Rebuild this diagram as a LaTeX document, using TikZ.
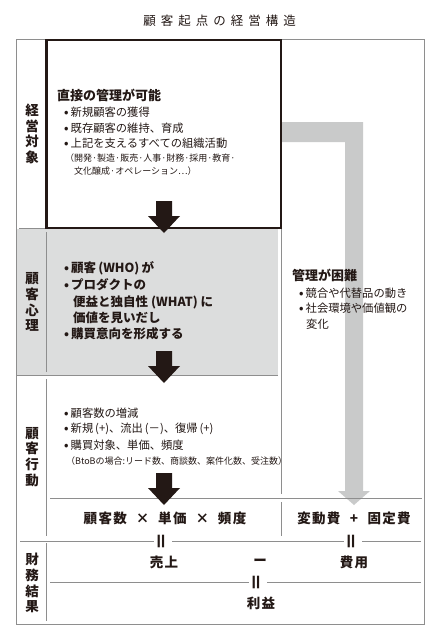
\documentclass[tikz,border=0pt]{standalone}
\usepackage{fontspec}
\setmainfont{Noto Sans CJK JP}
\newfontfamily\titlefont{Noto Sans CJK JP}[LetterSpace=40]
\newfontfamily\sumfont{Noto Sans CJK JP}[LetterSpace=10]
\usetikzlibrary{calc}
\definecolor{ink}{HTML}{231815}
\definecolor{rulegray}{HTML}{8E8E8E}
\definecolor{panegray}{HTML}{DCDDDD}
\definecolor{bargray}{HTML}{C9CACA}
\newcommand{\bul}{\mbox{\bfseries•}\hspace{2pt}}

\begin{document}
\begin{tikzpicture}[x=1pt,y=-1pt,
  thinrule/.style={draw=rulegray,line width=0.8pt},
  txt/.style={anchor=west,inner sep=0pt,text=ink},
  head/.style={txt,font=\bfseries\fontsize{13}{15}\selectfont},
  item/.style={txt,font=\fontsize{11.3}{13}\selectfont},
  note/.style={txt,font=\fontsize{9}{10}\selectfont},
  psy/.style={txt,font=\bfseries\fontsize{12.5}{14}\selectfont},
  vlab/.style={align=center,inner sep=0pt,text=ink,font=\bfseries\fontsize{13.5}{15.8}\selectfont},
  sum/.style={inner sep=0pt,text=ink,font=\sumfont\bfseries\fontsize{13.5}{15}\selectfont},
  eqmark/.style={rotate=90,inner sep=4pt,text=ink,font=\bfseries\fontsize{18}{18}\selectfont}]
\useasboundingbox (0,0) rectangle (438,640);
% shaded pane and the grey arrow behind everything
\fill[panegray] (16,229) rectangle (278,375);
\fill[bargray] (281,122) -- (363,122) -- (363,491) -- (370,491) -- (354,505) -- (338,491) -- (345,491) -- (345,142) -- (281,142) -- cycle;
% frame and rules
\draw[thinrule] (16,39) rectangle (424,624);
\draw[thinrule] (19,228) -- (45,228);
\draw[thinrule] (16,375) -- (278,375);
\foreach \a/\b in {232/372,379/536,543/621}
  \draw[thinrule] (46.5,\a) -- (46.5,\b);
\draw[thinrule] (281,228) -- (281,494) (281,502) -- (281,536);
\draw[thinrule] (50,498) -- (422,498);
\node (box0) [draw=ink,line width=2.6pt,minimum width=234.5pt,minimum height=188pt,inner sep=0pt,outer sep=0pt,anchor=north west] at (46.5,40) {};
% black arrows
\foreach \t [count=\i] in {233,383,505} {
  \coordinate (tip\i) at (164,\t);
  \fill[ink] (tip\i) -- ++(16,-17) -- ++(-8,0) -- ++(0,-15) -- ++(-16,0) -- ++(0,15) -- ++(-8,0) -- cycle;
}
\node (t0) [inner sep=0pt,text=ink,font=\titlefont\fontsize{12.5}{14}\selectfont] at (219.5,21) {顧客起点の経営構造};
% side labels
\node (l1) [vlab] at (32,134) {経\\営\\対\\象};
\node (l2) [vlab] at (32,302) {顧\\客\\心\\理};
\node (l3) [vlab] at (32,457) {顧\\客\\行\\動};
\node (l4) [vlab] at (32,583) {財\\務\\結\\果};
% first block
\node (h0) [head] at (57,95) {直接の管理が可能};
\foreach \t [count=\i] in {新規顧客の獲得,既存顧客の維持、育成,上記を支えるすべての組織活動}
  \node (b\i) [item] at (64,{97+15.5*\i}) {\bul\t};
\node (n1) [note] at (65,158) {（開発·製造·販売·人事·財務·採用·教育·};
\node (n2) [note] at (74,171) {文化醸成·オペレーション…）};
% second block
\foreach \x/\y/\t [count=\i] in {64/268/\bul 顧客\,(WHO)\,が,64/285/\bul プロダクトの,73/302/便益と独自性\hspace{3pt}(WHAT)\hspace{3pt}に,73/318/価値を見いだし,64/334/\bul 購買意向を形成する}
  \node (p\i) [psy] at (\x,\y) {\t};
% right side
\node (h1) [head] at (292,275) {管理が困難};
\node (c1) [item] at (299,293) {\bul 競合や代替品の動き};
\node (c2) [item] at (299,308) {\bul 社会環境や価値観の};
\node (c3) [item] at (306,324) {変化};
% third block
\foreach \t [count=\i] in {顧客数の増減,新規\,(+)、流出\,(－)、復帰\,(+),購買対象、単価、頻度}
  \node (d\i) [item] at (64,{397+16*\i}) {\bul\t};
\node (n3) [note] at (66,461) {（BtoBの場合:リード数、商談数、案件化数、受注数）};
% totals
\node (s1) [sum] at (165,518) {顧客数 \hspace{4.5pt}× \hspace{4.5pt}単価 \hspace{4.5pt}× \hspace{4.5pt}頻度};
\node (s2) [sum] at (354,518) {変動費 \hspace{5pt}+ \hspace{5pt}固定費};
\node (eq1) [eqmark] at (163,541) {＝};
\node (eq2) [eqmark] at (353,541) {＝};
\node (r1) [sum] at (164,562) {売上};
\node (m1) [sum] at (260,562) {ー};
\node (r2) [sum] at (354,562) {費用};
\node (eq3) [eqmark] at (258,582) {＝};
\node (r3) [sum] at (261,603) {利益};
\coordinate (a1) at (20,541);
\coordinate (a2) at (421,541);
\coordinate (a3) at (50,582);
\coordinate (a4) at (421,582);
\draw[thinrule] (a1) -- (eq1) -- (eq2) -- (a2);
\draw[thinrule] (a3) -- (eq3) -- (a4);
\end{tikzpicture}
\end{document}
